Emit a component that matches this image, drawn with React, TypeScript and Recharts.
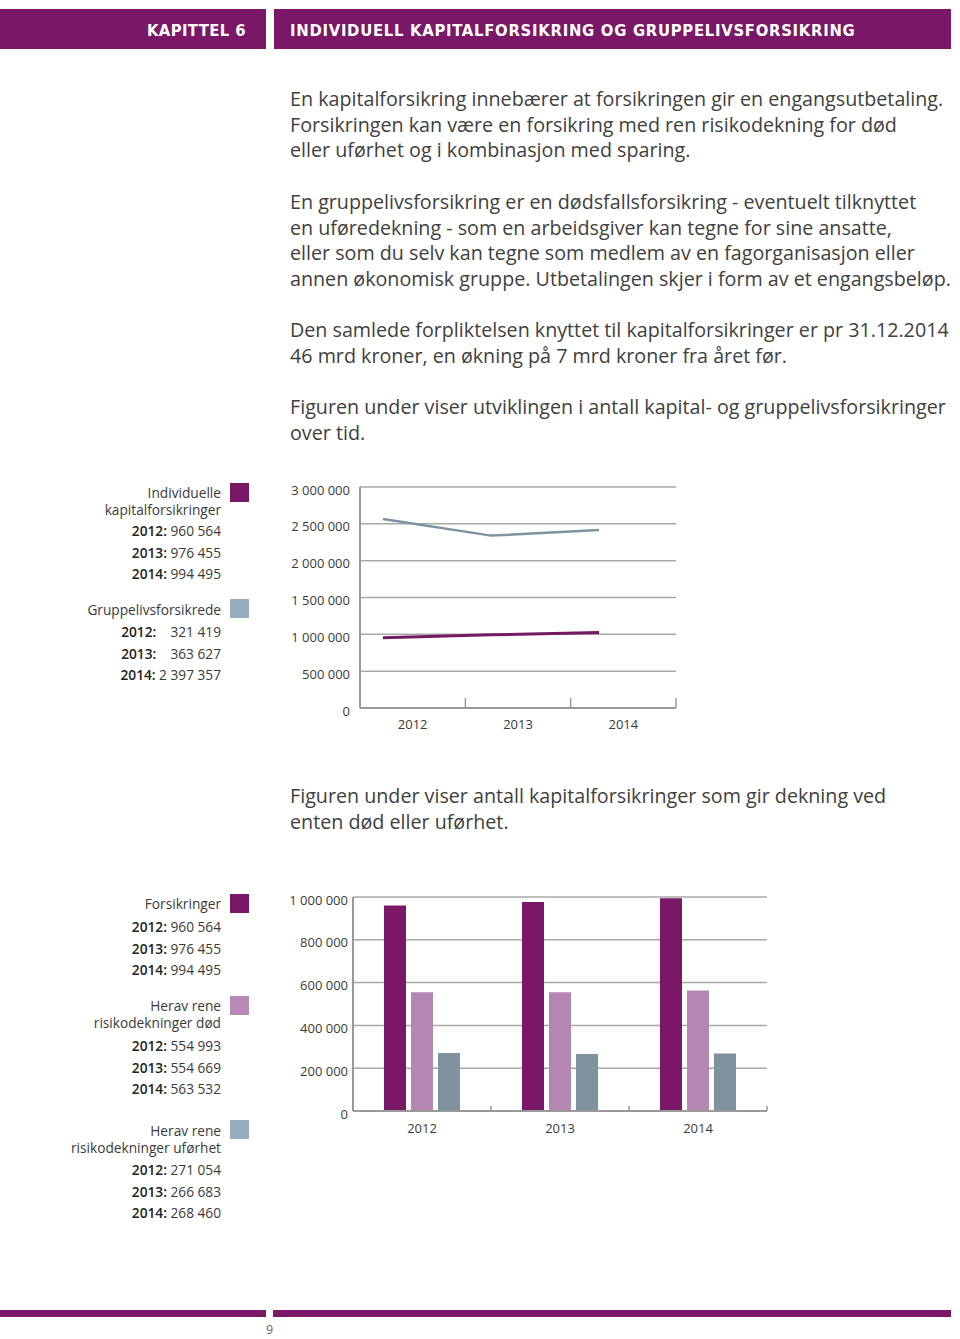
import React from "react";
import {
  LineChart,
  Line,
  BarChart,
  Bar,
  XAxis,
  YAxis,
  CartesianGrid,
} from "recharts";

// line chart: values as drawn in the figure
const years = ["2012", "2013", "2014"];
const individuelleLine = [955000, 993000, 1025000];
const gruppelivLine = [2565000, 2340000, 2415000];
const lineTicks = [0, 500000, 1000000, 1500000, 2000000, 2500000, 3000000];

// line chart legend texts
const individuelleLegend = [960564, 976455, 994495];
const gruppelivLegend = [321419, 363627, 2397357];

// bar chart
const forsikringer = [960564, 976455, 994495];
const risikoDod = [554993, 554669, 563532];
const risikoUforhet = [271054, 266683, 268460];
const barTicks = [0, 200000, 400000, 600000, 800000, 1000000];

const PURPLE = "#7a1767";
const LIGHT_PURPLE = "#b487b3";
const GREY_BLUE = "#7f939f";
const TEXT = "#3a3a3a";
const FONT = "'Open Sans', sans-serif";

const fmt = (n: number) =>
  n.toString().replace(/\B(?=(\d{3})+(?!\d))/g, " ");

const lineData = years.map((y, i) => ({
  year: y,
  individuelle: individuelleLine[i],
  gruppeliv: gruppelivLine[i],
}));

const barData = years.map((y, i) => ({
  year: y,
  forsikringer: forsikringer[i],
  dod: risikoDod[i],
  uforhet: risikoUforhet[i],
}));

const makeTick =
  (band: number, markH: number, labelDy: number) => (props: any) => {
    const { x, y, payload } = props;
    return (
      <g>
        <text
          x={x}
          y={y + labelDy}
          textAnchor="middle"
          fontSize={13}
          fontFamily={FONT}
          fill={TEXT}
        >
          {payload.value}
        </text>
        <line
          x1={x + band / 2}
          x2={x + band / 2}
          y1={y - markH}
          y2={y}
          stroke="#999"
          strokeWidth={1.5}
        />
      </g>
    );
  };

const yTickStyle = { fontSize: 13, fontFamily: FONT, fill: TEXT, dy: 3 };

type LegendRow = { y: number; bold?: string; text: string };

const LegendBlock = ({
  rows,
  swatches,
}: {
  rows: LegendRow[];
  swatches: { y: number; color: string }[];
}) => (
  <>
    {rows.map((r, i) => (
      <div
        key={i}
        style={{
          position: "absolute",
          right: 739,
          top: r.y - 9,
          height: 18,
          lineHeight: "18px",
          fontSize: 13.7,
          fontFamily: FONT,
          color: TEXT,
          whiteSpace: "pre",
          textAlign: "right",
        }}
      >
        {r.bold && <b style={{ fontWeight: 600, color: "#222" }}>{r.bold}</b>}
        {r.text}
      </div>
    ))}
    {swatches.map((s, i) => (
      <div
        key={"s" + i}
        style={{
          position: "absolute",
          left: 230,
          top: s.y,
          width: 19,
          height: 19,
          background: s.color,
        }}
      />
    ))}
  </>
);

const yearRows = (vals: number[], startY: number, pad = false): LegendRow[] =>
  vals.map((v, i) => {
    const s = fmt(v);
    return {
      y: startY + i * 21.5,
      bold: years[i] + ":",
      text: pad && s.length < 9 ? "    " + s : " " + s,
    };
  });

const Para = ({ top, lines }: { top: number; lines: string[] }) => (
  <div
    style={{
      position: "absolute",
      left: 290,
      top,
      fontSize: 19.7,
      lineHeight: "25.7px",
      fontFamily: FONT,
      color: "#404040",
      whiteSpace: "nowrap",
    }}
  >
    {lines.map((l, i) => (
      <div key={i}>{l}</div>
    ))}
  </div>
);

const headerText: React.CSSProperties = {
  color: "#fff",
  fontWeight: 700,
  fontSize: 16.5,
  fontFamily: "'DejaVu Sans Condensed', 'Liberation Sans Narrow', Roboto, sans-serif",
  fontStretch: "condensed",
  lineHeight: "43px",
};

export default function App() {
  return (
    <div
      style={{
        position: "absolute",
        left: 0,
        top: 0,
        width: 960,
        height: 1339,
        background: "#fff",
        overflow: "hidden",
      }}
    >
      {/* header */}
      <div
        style={{
          position: "absolute",
          left: 0,
          top: 9,
          width: 266,
          height: 40,
          background: PURPLE,
          textAlign: "right",
        }}
      >
        <span style={{ ...headerText, paddingRight: 20, letterSpacing: 0.4 }}>
          KAPITTEL 6
        </span>
      </div>
      <div
        style={{
          position: "absolute",
          left: 274,
          top: 9,
          width: 677,
          height: 40,
          background: PURPLE,
        }}
      >
        <span style={{ ...headerText, paddingLeft: 16, letterSpacing: 0.72 }}>
          INDIVIDUELL KAPITALFORSIKRING OG GRUPPELIVSFORSIKRING
        </span>
      </div>

      <Para
        top={86}
        lines={[
          "En kapitalforsikring innebærer at forsikringen gir en engangsutbetaling.",
          "Forsikringen kan være en forsikring med ren risikodekning for død",
          "eller uførhet og i kombinasjon med sparing.",
        ]}
      />
      <Para
        top={189}
        lines={[
          "En gruppelivsforsikring er en dødsfallsforsikring - eventuelt tilknyttet",
          "en uføredekning - som en arbeidsgiver kan tegne for sine ansatte,",
          "eller som du selv kan tegne som medlem av en fagorganisasjon eller",
          "annen økonomisk gruppe. Utbetalingen skjer i form av et engangsbeløp.",
        ]}
      />
      <Para
        top={317}
        lines={[
          "Den samlede forpliktelsen knyttet til kapitalforsikringer er pr 31.12.2014",
          "46 mrd kroner, en økning på 7 mrd kroner fra året før.",
        ]}
      />
      <Para
        top={394}
        lines={[
          "Figuren under viser utviklingen i antall kapital- og gruppelivsforsikringer",
          "over tid.",
        ]}
      />

      {/* legend 1 */}
      <LegendBlock
        rows={[
          { y: 493, text: "Individuelle" },
          { y: 510, text: "kapitalforsikringer" },
          ...yearRows(individuelleLegend, 531),
          { y: 610, text: "Gruppelivsforsikrede" },
          ...yearRows(gruppelivLegend, 632, true),
        ]}
        swatches={[
          { y: 483, color: PURPLE },
          { y: 599, color: "#96aec0" },
        ]}
      />

      <div style={{ position: "absolute", left: 280, top: 470 }}>
        <LineChart
          width={420}
          height={270}
          data={lineData}
          margin={{ top: 17, right: 24, left: 0, bottom: 0 }}
        >
          <CartesianGrid
            vertical={false}
            stroke="#a8a8a8"
            strokeWidth={1.5}
            yAxisId="v"
          />
          <XAxis
            dataKey="year"
            scale="band"
            height={32}
            tickSize={0}
            tickMargin={0}
            stroke="#999"
            strokeWidth={2}
            tick={makeTick(316 / 3, 10, 21)}
            interval={0}
          />
          <XAxis
            xAxisId="pts"
            dataKey="year"
            hide
            padding={{ left: 23, right: 77 }}
          />
          <YAxis
            yAxisId="v"
            width={80}
            domain={[0, 3000000]}
            ticks={lineTicks}
            tickFormatter={fmt}
            tickSize={0}
            tickMargin={10}
            stroke="#999"
            strokeWidth={2}
            tick={yTickStyle}
            interval={0}
          />
          <Line
            xAxisId="pts"
            yAxisId="v"
            dataKey="gruppeliv"
            stroke={GREY_BLUE}
            strokeWidth={2.5}
            dot={false}
            isAnimationActive={false}
          />
          <Line
            xAxisId="pts"
            yAxisId="v"
            dataKey="individuelle"
            stroke="#731a62"
            strokeWidth={3}
            dot={false}
            isAnimationActive={false}
          />
        </LineChart>
      </div>

      <Para
        top={783}
        lines={[
          "Figuren under viser antall kapitalforsikringer som gir dekning ved",
          "enten død eller uførhet.",
        ]}
      />

      {/* legend 2 */}
      <LegendBlock
        rows={[
          { y: 904, text: "Forsikringer" },
          ...yearRows(forsikringer, 927),
          { y: 1006, text: "Herav rene" },
          { y: 1023, text: "risikodekninger død" },
          ...yearRows(risikoDod, 1046),
          { y: 1131, text: "Herav rene" },
          { y: 1148, text: "risikodekninger uførhet" },
          ...yearRows(risikoUforhet, 1170),
        ]}
        swatches={[
          { y: 894, color: PURPLE },
          { y: 996, color: "#b98ab8" },
          { y: 1120, color: "#96aec0" },
        ]}
      />

      <div style={{ position: "absolute", left: 280, top: 880 }}>
        <BarChart
          width={540}
          height={270}
          data={barData}
          margin={{ top: 17, right: 53, left: 0, bottom: 0 }}
          barSize={22}
          barGap={5}
        >
          <CartesianGrid vertical={false} stroke="#a8a8a8" strokeWidth={1.5} />
          <XAxis
            dataKey="year"
            height={39}
            tickSize={0}
            tickMargin={0}
            stroke="#999"
            strokeWidth={2}
            tick={makeTick(414 / 3, 5, 21.5)}
            interval={0}
          />
          <YAxis
            width={73}
            domain={[0, 1000000]}
            ticks={barTicks}
            tickFormatter={fmt}
            tickSize={0}
            tickMargin={5}
            stroke="#999"
            strokeWidth={2}
            tick={yTickStyle}
            interval={0}
          />
          <Bar dataKey="forsikringer" fill={PURPLE} isAnimationActive={false} />
          <Bar dataKey="dod" fill={LIGHT_PURPLE} isAnimationActive={false} />
          <Bar dataKey="uforhet" fill={GREY_BLUE} isAnimationActive={false} />
        </BarChart>
      </div>

      {/* footer */}
      <div
        style={{
          position: "absolute",
          left: 0,
          top: 1310,
          width: 266,
          height: 7,
          background: PURPLE,
        }}
      />
      <div
        style={{
          position: "absolute",
          left: 273,
          top: 1310,
          width: 678,
          height: 7,
          background: PURPLE,
        }}
      />
      <div
        style={{
          position: "absolute",
          left: 266,
          top: 1322,
          fontSize: 12.5,
          fontFamily: FONT,
          color: "#666",
          lineHeight: "16px",
        }}
      >
        9
      </div>
    </div>
  );
}
